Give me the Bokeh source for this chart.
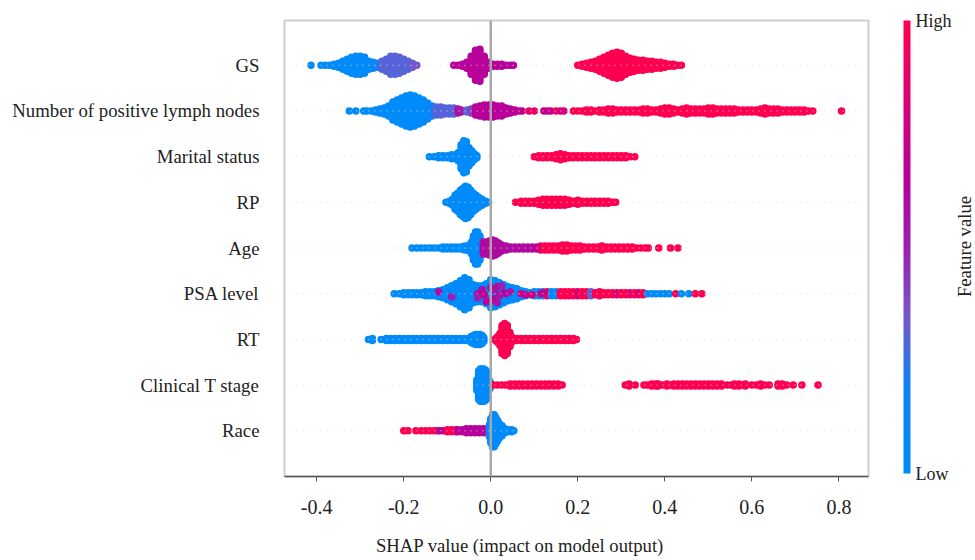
from bokeh.plotting import figure
from bokeh.models import ColorBar, ColumnDataSource, FixedTicker, Label, LinearColorMapper, Span
from bokeh.embed import file_html
from bokeh.resources import INLINE

FEATURES = ["GS", "Number of positive lymph nodes", "Marital status", "RP", "Age",
            "PSA level", "RT", "Clinical T stage", "Race"]
X_TICKS = [-0.4, -0.2, 0.0, 0.2, 0.4, 0.6, 0.8]

# each series: SHAP bin, half height of the swarm in that bin, feature value (0 low .. 1 high)
GS_X = [-0.413, -0.39, -0.38, -0.37, -0.36, -0.35, -0.34, -0.33, -0.32, -0.31, -0.30, -0.29, -0.28, -0.27, -0.26, -0.25,
        -0.24, -0.23, -0.22, -0.21, -0.20, -0.19, -0.18, -0.17,
        -0.085, -0.075, -0.065, -0.055, -0.045, -0.035, -0.025, -0.015, -0.005, 0.005, 0.015, 0.025, 0.035, 0.045, 0.052,
        0.20, 0.21, 0.22, 0.23, 0.24, 0.25, 0.26, 0.27, 0.28, 0.29, 0.30, 0.31, 0.32, 0.33, 0.34, 0.35, 0.36, 0.37, 0.38, 0.39, 0.40, 0.41, 0.42, 0.43, 0.438]
GS_N = [0, 0, 0, 0, 1, 2, 4, 6, 8, 9, 9, 8, 4, 3, 2, 4,
        6, 9, 9, 8, 6, 4, 2, 0,
        0, 0, 1, 3, 9, 15, 16, 9, 3, 1, 1, 1, 0, 0, 0,
        0, 1, 2, 3, 4, 6, 8, 10, 12, 13, 12, 9, 7, 6, 5, 5, 4, 4, 3, 3, 2, 1, 1, 0, 0]
GS_C = [0, 0, 0, 0, 0, 0, 0, 0, 0, 0, 0, 0, 0, 0.1, 0.1, 0.3,
        0.3, 0.3, 0.3, 0.3, 0.3, 0.3, 0.33, 0.35,
        0.65, 0.65, 0.65, 0.65, 0.65, 0.65, 0.65, 0.65, 0.65, 0.65, 0.65, 0.65, 0.65, 0.65, 0.65,
        1, 1, 1, 1, 1, 1, 1, 1, 1, 1, 1, 1, 1, 1, 1, 1, 1, 1, 1, 1, 1, 1, 1, 1, 1]

NODES_X = [-0.325, -0.31, -0.292, -0.285, -0.275, -0.265, -0.255, -0.245, -0.235, -0.225, -0.215, -0.205, -0.195, -0.185,
           -0.175, -0.165, -0.155, -0.145, -0.135, -0.125, -0.115, -0.105, -0.095, -0.085, -0.075, -0.068, -0.055, -0.045,
           -0.035, -0.025, -0.015, -0.005, 0.005, 0.015, 0.025, 0.035, 0.045, 0.055, 0.065, 0.072, 0.088, 0.10, 0.122, 0.13, 0.138, 0.15, 0.16, 0.168,
           0.19, 0.20, 0.21, 0.22, 0.23, 0.24, 0.25, 0.26, 0.27, 0.28, 0.29, 0.30, 0.31, 0.32, 0.33, 0.34, 0.35, 0.36, 0.37, 0.38, 0.39, 0.40, 0.41,
           0.42, 0.43, 0.44, 0.45, 0.46, 0.47, 0.48, 0.49, 0.50, 0.51, 0.52, 0.53, 0.54, 0.55, 0.56, 0.57, 0.58, 0.59, 0.60, 0.61, 0.62, 0.63, 0.64,
           0.65, 0.66, 0.67, 0.68, 0.69, 0.70, 0.71, 0.72, 0.73, 0.74, 0.806]
NODES_N = [0, 0, 0, 0, 0, 1, 2, 3, 5, 9, 11, 13, 15, 16,
           15, 13, 11, 8, 5, 4, 4, 3, 3, 3, 2, 1, 1, 2,
           4, 5, 6, 6, 6, 5, 5, 3, 2, 1, 0, 0, 0, 0, 0, 0, 0, 0, 0, 0,
           0, 0, 0, 1, 1, 0, 1, 1, 2, 2, 1, 1, 1, 1, 1, 1, 2, 2, 1, 1, 2, 3, 3,
           2, 1, 2, 3, 2, 2, 2, 2, 3, 3, 2, 2, 2, 2, 2, 1, 1, 1, 1, 1, 2, 3, 2,
           2, 2, 1, 1, 1, 1, 1, 1, 0, 0, 0]
NODES_C = [0, 0, 0, 0, 0, 0, 0, 0, 0, 0, 0, 0, 0, 0,
           0, 0, 0, 0.05, 0.15, 0.3, 0.3, 0.3, 0.3, 0.3, 0.55, 0.55, 0.3, 0.4,
           0.65, 0.65, 0.65, 0.65, 0.65, 0.65, 0.65, 0.65, 0.65, 0.65, 0.7, 0.7, 0.9, 0.9, 0.7, 0.7, 0.7, 0.9, 0.8, 0.8,
           1, 1, 1, 1, 1, 1, 1, 1, 1, 1, 1, 1, 1, 1, 1, 1, 1, 1, 1, 1, 1, 1, 1,
           1, 1, 1, 1, 1, 1, 1, 1, 1, 1, 1, 1, 1, 1, 1, 1, 1, 1, 1, 1, 1, 1, 1,
           1, 1, 1, 1, 1, 1, 1, 1, 1, 1, 1]

MARITAL_X = [-0.141, -0.13, -0.12, -0.11, -0.10, -0.09, -0.08, -0.075, -0.068, -0.062, -0.056, -0.05, -0.044, -0.038, -0.032,
             0.10, 0.11, 0.12, 0.13, 0.14, 0.15, 0.16, 0.17, 0.18, 0.19, 0.20, 0.21, 0.22, 0.23, 0.24, 0.25, 0.26, 0.27, 0.28, 0.29, 0.30, 0.31, 0.32, 0.331]
MARITAL_N = [0, 0, 1, 1, 1, 2, 2, 4, 12, 16, 15, 9, 6, 3, 1,
             0, 1, 1, 1, 1, 2, 3, 2, 1, 1, 1, 1, 1, 1, 1, 1, 1, 1, 1, 1, 1, 1, 0, 0]
MARITAL_C = [0] * 15 + [1] * 24

RP_X = [-0.103, -0.095, -0.088, -0.082, -0.076, -0.07, -0.064, -0.058, -0.052, -0.046, -0.04, -0.034, -0.028, -0.02, -0.012, -0.005,
        0.057, 0.07, 0.08, 0.09, 0.10, 0.11, 0.12, 0.13, 0.14, 0.15, 0.16, 0.17, 0.18, 0.19, 0.20, 0.21, 0.22, 0.23, 0.24, 0.25, 0.26, 0.27, 0.28, 0.287]
RP_N = [0, 1, 3, 7, 9, 12, 14, 16, 15, 12, 9, 7, 5, 3, 1, 0,
        0, 1, 1, 1, 1, 2, 3, 3, 3, 3, 3, 3, 2, 1, 2, 1, 1, 1, 1, 1, 1, 1, 0, 0]
RP_C = [0] * 16 + [1] * 24

AGE_X = [-0.181, -0.17, -0.16, -0.15, -0.14, -0.13, -0.12, -0.11, -0.10, -0.09, -0.08, -0.07, -0.06, -0.05, -0.044, -0.04, -0.035, -0.03, -0.025,
         -0.017, -0.01, -0.003, 0.004, 0.011, 0.018, 0.025, 0.035, 0.045, 0.055, 0.065, 0.075, 0.085, 0.095,
         0.105, 0.115, 0.125, 0.135, 0.145, 0.155, 0.165, 0.175, 0.185, 0.195, 0.205, 0.215, 0.225, 0.235, 0.245, 0.255, 0.265, 0.275, 0.285, 0.295, 0.305, 0.315, 0.325, 0.335, 0.345, 0.355, 0.362,
         0.386, 0.413, 0.43]
AGE_N = [0, 0, 0, 0, 0, 0, 0, 1, 1, 1, 1, 1, 2, 3, 6, 12, 16, 16, 12,
         6, 6, 7, 8, 7, 5, 3, 2, 1, 1, 1, 1, 1, 1,
         1, 2, 2, 2, 2, 2, 3, 3, 2, 2, 2, 1, 1, 1, 1, 2, 1, 1, 1, 1, 1, 1, 1, 0, 0, 0, 0,
         0, 0, 0]
AGE_C = [0] * 19 + [0.6] * 14 + [0.7, 0.85, 1] + [1] * 27

PSA_X = [-0.222, -0.21, -0.20, -0.19, -0.18, -0.17, -0.16, -0.15, -0.14, -0.13, -0.12, -0.11, -0.10, -0.09, -0.08, -0.07, -0.06, -0.05, -0.04, -0.03, -0.02, -0.01,
         0.0, 0.01, 0.02, 0.03, 0.04, 0.05, 0.06, 0.07, 0.08, 0.09, 0.10, 0.11, 0.12, 0.13, 0.14, 0.15, 0.16, 0.17, 0.18, 0.19, 0.20, 0.21, 0.22, 0.23, 0.24, 0.25, 0.26, 0.27, 0.28, 0.29, 0.30, 0.31, 0.32, 0.33, 0.34, 0.35, 0.36, 0.37, 0.38, 0.39, 0.40, 0.41, 0.425, 0.438, 0.455, 0.47, 0.485]
PSA_N = [0, 0, 1, 1, 1, 1, 1, 2, 2, 2, 3, 4, 6, 8, 10, 13, 16, 14, 9, 8, 8, 10,
         14, 13, 11, 9, 7, 6, 5, 3, 2, 1, 2, 2, 2, 2, 2, 2, 2, 2, 2, 2, 2, 2, 2, 2, 1, 2, 1, 1, 1, 1, 1, 1, 1, 1, 1, 1, 0, 0, 0, 0, 0, 0, 0, 0, 0, 0, 0]
PSA_C = [0] * 33 + [0.05, 0.05, 0.9, 0.05, 0.05, 1, 1, 1, 1, 0.8, 1, 1, 0.3, 1, 1, 1, 1, 1, 0.8, 1, 1, 0.85, 1, 0.8, 1, 0.1, 0.1, 0, 0, 0, 0, 1, 0, 0, 1, 1, 1]
# single dots of another colour inside the PSA swarm: bin, offset inside the swarm, feature value
PSA_MIX_X = [-0.12, -0.09, -0.03, -0.03, -0.02, -0.01, 0.0, 0.01, 0.01, 0.015, 0.02, 0.025, 0.03, -0.015, 0.0, 0.015, 0.035, 0.045, 0.07, 0.08, 0.095, 0.115, 0.12]
PSA_MIX_K = [2, -3, 0, -4, 4, -8, 6, 3, -5, 7, -2, 8, 1, -1, -7, -9, 0, 2, 0, -1, -1, 0, 1]
PSA_MIX_C = [0.6, 0.5, 0.6, 0.5, 0.6, 0.65, 0.6, 0.55, 0.65, 0.6, 0.55, 0.5, 0.6, 0.7, 0.65, 0.55, 0.6, 0.55, 0.8, 0.7, 0.8, 0.8, 0.7]

RT_X = [-0.281, -0.272, -0.252, -0.24, -0.23, -0.22, -0.21, -0.20, -0.19, -0.18, -0.17, -0.16, -0.15, -0.14, -0.13, -0.12, -0.11, -0.10, -0.09, -0.08, -0.07, -0.06, -0.05, -0.045, -0.04, -0.035, -0.03, -0.025, -0.02, -0.016,
        0.011, 0.016, 0.021, 0.026, 0.032, 0.038, 0.044, 0.05, 0.06, 0.07, 0.08, 0.09, 0.10, 0.11, 0.12, 0.13, 0.14, 0.15, 0.16, 0.17, 0.18, 0.19, 0.197]
RT_N = [0, 1, 0, 1, 1, 1, 1, 1, 1, 1, 1, 1, 1, 1, 1, 1, 1, 1, 1, 1, 1, 1, 1, 3, 4, 5, 5, 5, 4, 2,
        1, 3, 6, 14, 16, 14, 7, 2, 1, 1, 1, 1, 1, 1, 1, 1, 1, 1, 1, 1, 1, 1, 0]
RT_C = [0] * 30 + [1] * 23

STAGE_X = [-0.032, -0.028, -0.024, -0.02, -0.016, -0.012, -0.008, -0.004, 0.0,
           0.005, 0.015, 0.025, 0.035, 0.045, 0.055, 0.065, 0.075, 0.085, 0.095, 0.105, 0.115, 0.125, 0.135, 0.145, 0.155, 0.164,
           0.309, 0.318, 0.332, 0.352, 0.36, 0.37, 0.38, 0.385, 0.395, 0.405, 0.415, 0.42, 0.43, 0.44, 0.45, 0.46, 0.47, 0.48, 0.49, 0.50, 0.51, 0.52, 0.53, 0.543,
           0.552, 0.56, 0.57, 0.58, 0.585, 0.60, 0.61, 0.62, 0.63, 0.64, 0.66, 0.67, 0.68, 0.695, 0.715, 0.752]
STAGE_N = [5, 14, 16, 16, 16, 15, 13, 5, 2,
           0, 0, 0, 0, 1, 1, 1, 1, 1, 1, 1, 1, 1, 1, 1, 1, 0,
           0, 1, 0, 0, 0, 1, 1, 1, 0, 1, 0, 1, 1, 1, 1, 1, 1, 1, 1, 1, 1, 1, 1, 0,
           0, 1, 1, 0, 1, 0, 0, 1, 0, 0, 1, 1, 0, 0, 0, 0]
STAGE_C = [0] * 9 + [1] * 57

RACE_X = [-0.2, -0.19, -0.172, -0.16, -0.15, -0.14, -0.13, -0.122, -0.118, -0.11, -0.10, -0.09, -0.08,
          -0.076, -0.066, -0.056, -0.046, -0.036, -0.026, -0.016, -0.006,
          -0.003, 0.0, 0.004, 0.008, 0.012, 0.016, 0.02, 0.026, 0.032, 0.04, 0.048, 0.053]
RACE_N = [0, 0, 0, 0, 0, 0, 0, 0, 0, 0, 1, 1, 1,
          1, 1, 2, 2, 2, 2, 2, 2,
          6, 12, 16, 16, 13, 10, 7, 5, 2, 1, 1, 0]
RACE_C = [1, 1, 1, 1, 1, 1, 1, 1, 0.6, 0.65, 1, 1, 1,
          0.65, 0.65, 0.65, 0.65, 0.65, 0.65, 0.65, 0.65,
          0, 0, 0, 0, 0, 0, 0, 0, 0, 0, 0, 0]

SERIES = [(GS_X, GS_N, GS_C), (NODES_X, NODES_N, NODES_C), (MARITAL_X, MARITAL_N, MARITAL_C),
          (RP_X, RP_N, RP_C), (AGE_X, AGE_N, AGE_C), (PSA_X, PSA_N, PSA_C), (RT_X, RT_N, RT_C),
          (STAGE_X, STAGE_N, STAGE_C), (RACE_X, RACE_N, RACE_C)]

FONT = "Liberation Serif"
ROW_PX = 45.6  # pixels per row, turns swarm heights into row units


def colour_stops():
    stops = [(0, (0, 139, 251)), (0.2, (20, 128, 242)), (0.35, (122, 85, 204)), (0.5, (156, 31, 176)),
             (0.65, (184, 0, 154)), (0.85, (224, 0, 111)), (1, (255, 0, 81))]
    out = []
    for i in range(256):
        t = i / 255
        for (a, ca), (b, cb) in zip(stops, stops[1:]):
            if t <= b:
                f = (t - a) / (b - a)
                out.append("#%02x%02x%02x" % tuple(round(u + (v - u) * f) for u, v in zip(ca, cb)))
                break
    return out


mapper = LinearColorMapper(palette=colour_stops(), low=0, high=1)

p = figure(width=975, height=560, x_range=(-0.474, 0.868), y_range=(-1.0, 8.98),
           output_backend="svg", toolbar_location=None,
           min_border_left=284, min_border_right=106, min_border_top=20, min_border_bottom=84)
p.grid.visible = False
p.outline_line_color = "#cfcfcf"
p.outline_line_width = 2

xs, ys, cs = [], [], []
for i, (sx, sn, sc) in enumerate(SERIES):
    row = len(FEATURES) - 1 - i
    p.add_layout(Span(location=row, dimension="width", line_color="#d8d8d8", line_width=1, line_dash="1 5"))
    for x, n, c in zip(sx, sn, sc):
        for k in range(-n, n + 1, 2):
            xs.append(x)
            ys.append(row + k / ROW_PX)
            cs.append(c)
psa_row = len(FEATURES) - 1 - FEATURES.index("PSA level")
for x, k, c in zip(PSA_MIX_X, PSA_MIX_K, PSA_MIX_C):
    xs.append(x)
    ys.append(psa_row + k / ROW_PX)
    cs.append(c)

p.add_layout(Span(location=0, dimension="height", line_color="#a8a8a8", line_width=2.5))
src = ColumnDataSource({"x": xs, "y": ys, "c": cs})
p.scatter("x", "y", source=src, size=7.5, line_color=None, fill_color={"field": "c", "transform": mapper})

ax = p.xaxis[0]
ax.ticker = FixedTicker(ticks=X_TICKS)
ax.major_label_overrides = {t: f"{t:.1f}" for t in X_TICKS}
ax.axis_line_color = "#555555"
ax.axis_line_width = 1.5
ax.major_tick_line_color = "#555555"
ax.major_tick_in = 0
ax.major_tick_out = 5
ax.minor_tick_line_color = None
ax.major_label_standoff = 18
ax.major_label_text_font = FONT
ax.major_label_text_font_size = "20px"
ax.major_label_text_color = "#222222"

p.add_layout(Label(x=235.5, y=-8, x_units="screen", y_units="screen", text="SHAP value (impact on model output)",
                   text_font=FONT, text_font_size="18.7px", text_color="#222222",
                   text_align="center", text_baseline="middle"), "below")

ay = p.yaxis[0]
rows = list(range(len(FEATURES)))
ay.ticker = FixedTicker(ticks=rows)
ay.major_label_overrides = {len(FEATURES) - 1 - i: f for i, f in enumerate(FEATURES)}
ay.axis_line_color = None
ay.major_tick_line_color = None
ay.minor_tick_line_color = None
ay.major_label_standoff = 19
ay.major_label_text_font = FONT
ay.major_label_text_font_size = "18.8px"
ay.major_label_text_color = "#222222"

cb = ColorBar(color_mapper=mapper, width=7, height=453, padding=0, location=(35, 3),
              ticker=FixedTicker(ticks=[0, 1]), major_label_overrides={0: "Low", 1: "High"},
              major_tick_line_color=None, minor_tick_line_color=None, bar_line_color=None,
              major_label_text_font=FONT, major_label_text_font_size="18px", major_label_text_color="#222222",
              label_standoff=5)
p.add_layout(cb, "right")

p.add_layout(Label(x=10, y=230, x_units="screen", y_units="screen", text="Feature value", angle=90,
                   angle_units="deg", text_font=FONT, text_font_size="18.7px", text_color="#222222",
                   text_align="center", text_baseline="middle"), "right")

open("out.html", "w").write(file_html(p, INLINE))
